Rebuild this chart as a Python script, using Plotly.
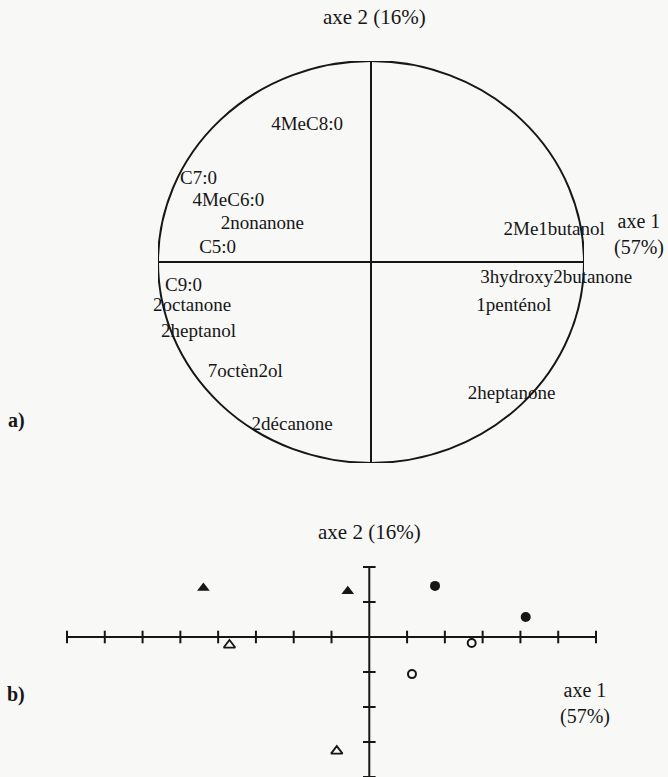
import plotly.graph_objects as go

W, H = 668, 777

# ---- a) correlation circle: variable labels (axis 1, axis 2 coordinates)
var_names = ["4MeC8:0", "C7:0", "4MeC6:0", "2nonanone", "C5:0",
             "2Me1butanol", "3hydroxy2butanone", "1penténol", "2heptanone",
             "C9:0", "2octanone", "2heptanol", "7octèn2ol", "2décanone"]
var_x = [-0.30, -0.81, -0.67, -0.51, -0.72,
         0.86, 0.87, 0.67, 0.66,
         -0.88, -0.84, -0.81, -0.59, -0.37]
var_y = [0.68, 0.41, 0.30, 0.19, 0.07,
         0.16, -0.08, -0.22, -0.66,
         -0.12, -0.22, -0.35, -0.55, -0.81]

# ---- b) individuals on axes 1 and 2
tri_filled_x = [-4.39, -0.57]
tri_filled_y = [1.40, 1.31]
tri_open_x = [-3.70, -0.86]
tri_open_y = [-0.23, -3.26]
circ_filled_x = [1.74, 4.14]
circ_filled_y = [1.46, 0.57]
circ_open_x = [2.71, 1.13]
circ_open_y = [-0.17, -1.06]

x_ticks = [-8, -7, -6, -5, -4, -3, -2, -1, 1, 2, 3, 4, 5, 6]
y_ticks = [-4, -3, -2, -1, 1, 2]
x2_range = [-8, 6]
y2_range = [-4, 2]

axis1_label = "axe 1<br>(57%)"
axis2_label = "axe 2 (16%)"

INK = "#161616"
SERIF = "Liberation Serif, Times New Roman, DejaVu Serif, serif"


def px(x):
    return x / W


def py(y):
    return 1 - y / H


fig = go.Figure()

# variable labels
fig.add_trace(go.Scatter(
    x=var_x, y=var_y, text=var_names, mode="text",
    textposition="middle center",
    textfont=dict(family=SERIF, size=19, color=INK),
    cliponaxis=False, xaxis="x", yaxis="y", showlegend=False,
    hoverinfo="skip"))

# tick marks on the factorial plane axes
fig.add_trace(go.Scatter(
    x=x_ticks, y=[0] * len(x_ticks), mode="markers",
    marker=dict(symbol="line-ns", size=9, line=dict(width=2, color=INK)),
    cliponaxis=False, xaxis="x2", yaxis="y2", showlegend=False,
    hoverinfo="skip"))
fig.add_trace(go.Scatter(
    x=[0] * len(y_ticks), y=y_ticks, mode="markers",
    marker=dict(symbol="line-ew", size=9, line=dict(width=2, color=INK)),
    cliponaxis=False, xaxis="x2", yaxis="y2", showlegend=False,
    hoverinfo="skip"))

# individuals
fig.add_trace(go.Scatter(
    x=tri_filled_x, y=tri_filled_y, mode="markers",
    marker=dict(symbol="triangle-up", size=11, color=INK),
    xaxis="x2", yaxis="y2", showlegend=False))
fig.add_trace(go.Scatter(
    x=tri_open_x, y=tri_open_y, mode="markers",
    marker=dict(symbol="triangle-up-open", size=10, color=INK,
                line=dict(width=1.8, color=INK)),
    xaxis="x2", yaxis="y2", showlegend=False))
fig.add_trace(go.Scatter(
    x=circ_filled_x, y=circ_filled_y, mode="markers",
    marker=dict(symbol="circle", size=10, color=INK),
    xaxis="x2", yaxis="y2", showlegend=False))
fig.add_trace(go.Scatter(
    x=circ_open_x, y=circ_open_y, mode="markers",
    marker=dict(symbol="circle-open", size=8, color=INK,
                line=dict(width=2, color=INK)),
    xaxis="x2", yaxis="y2", showlegend=False))

shapes = [
    # correlation circle and its axes
    dict(type="circle", xref="x", yref="y", x0=-1, x1=1, y0=-1, y1=1,
         line=dict(color=INK, width=2)),
    dict(type="line", xref="x", yref="y", x0=-1, x1=1, y0=0, y1=0,
         line=dict(color=INK, width=2)),
    dict(type="line", xref="x", yref="y", x0=0, x1=0, y0=-1, y1=1,
         line=dict(color=INK, width=2)),
    # factorial plane axes
    dict(type="line", xref="x2", yref="y2", x0=x2_range[0], x1=x2_range[1],
         y0=0, y1=0, line=dict(color=INK, width=2)),
    dict(type="line", xref="x2", yref="y2", x0=0, x1=0,
         y0=y2_range[0], y1=y2_range[1], line=dict(color=INK, width=2)),
]

font_lab = dict(family=SERIF, size=20, color=INK)
annotations = [
    dict(text=axis2_label, x=px(374), y=py(17), xref="paper", yref="paper",
         showarrow=False, xanchor="center", yanchor="middle",
         font=dict(family=SERIF, size=21, color=INK)),
    dict(text=axis1_label, x=px(639), y=py(234), xref="paper", yref="paper",
         showarrow=False, xanchor="center", yanchor="middle", font=font_lab),
    dict(text="<b>a)</b>", x=px(16), y=py(420), xref="paper", yref="paper",
         showarrow=False, xanchor="center", yanchor="middle", font=font_lab),
    dict(text=axis2_label, x=px(369), y=py(532), xref="paper", yref="paper",
         showarrow=False, xanchor="center", yanchor="middle",
         font=dict(family=SERIF, size=21, color=INK)),
    dict(text=axis1_label, x=px(585), y=py(703), xref="paper", yref="paper",
         showarrow=False, xanchor="center", yanchor="middle", font=font_lab),
    dict(text="<b>b)</b>", x=px(16), y=py(694), xref="paper", yref="paper",
         showarrow=False, xanchor="center", yanchor="middle", font=font_lab),
]

hidden = dict(visible=False, showgrid=False, zeroline=False, fixedrange=True)

fig.update_layout(
    width=W, height=H,
    margin=dict(l=0, r=0, t=0, b=0),
    paper_bgcolor="#f8f8f7", plot_bgcolor="rgba(0,0,0,0)",
    xaxis=dict(domain=[px(158), px(584)], range=[-1, 1], anchor="y", **hidden),
    yaxis=dict(domain=[py(463), py(61)], range=[-1, 1], anchor="x", **hidden),
    xaxis2=dict(domain=[px(67), px(596)], range=x2_range, anchor="y2", **hidden),
    yaxis2=dict(domain=[0, py(567)], range=y2_range, anchor="x2", **hidden),
    shapes=shapes, annotations=annotations,
    showlegend=False,
)

fig.write_html(
    "out.html",
    config={"displayModeBar": False},
    post_script="document.body.style.margin='0px';"
                "document.body.style.overflow='hidden';",
)
